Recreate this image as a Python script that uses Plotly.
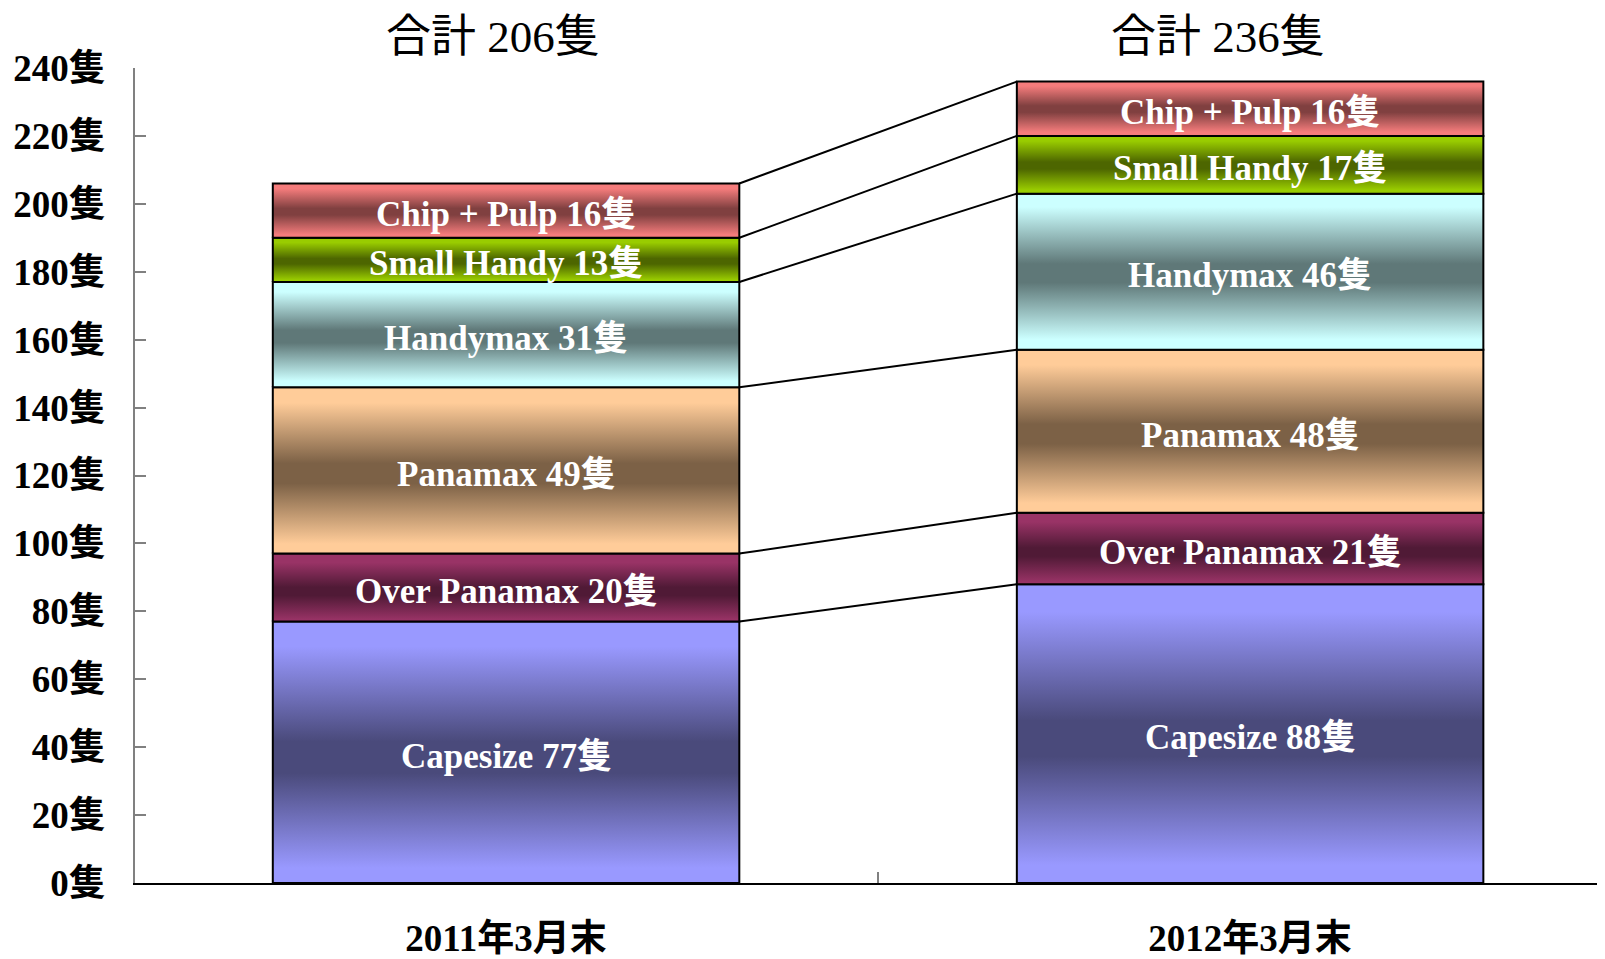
import numpy as np
import plotly.graph_objects as go

# ---------------- data ----------------
categories = ["2011年3月末", "2012年3月末"]
ship_types = ["Capesize", "Over Panamax", "Panamax", "Handymax", "Small Handy", "Chip + Pulp"]
counts_2011 = [77, 20, 49, 31, 13, 16]
counts_2012 = [88, 21, 48, 46, 17, 16]
unit = "隻"
y_tick_values = list(range(0, 241, 20))
y_tick_labels = [f"{v}{unit}" for v in y_tick_values]

# ---------------- style ----------------
edge_colors = {
    "Capesize": "#9999FF",
    "Over Panamax": "#993366",
    "Panamax": "#FFCC99",
    "Handymax": "#CCFFFF",
    "Small Handy": "#99CC00",
    "Chip + Pulp": "#F57C7C",
}
mid_colors = {
    "Capesize": "#4A4A7B",
    "Over Panamax": "#501A36",
    "Panamax": "#7C6146",
    "Handymax": "#5F7878",
    "Small Handy": "#4D6600",
    "Chip + Pulp": "#804040",
}
SERIF = "Liberation Serif, Times New Roman, Noto Sans CJK JP, serif"


def gradient(name):
    e, m = edge_colors[name], mid_colors[name]
    return [[0, e], [0.08, e], [0.44, m], [0.56, m], [0.92, e], [1, e]]


series = [counts_2011, counts_2012]
x_pos = [0, 1]
bar_w = 0.627

fig = go.Figure()

col_edges = []
col_tops = []
for ci, vals in enumerate(series):
    vals = np.array(vals, dtype=float)
    tops = np.cumsum(vals)
    bases = tops - vals
    xc = x_pos[ci]
    x0, x1 = xc - bar_w / 2, xc + bar_w / 2
    col_edges.append((x0, x1))
    col_tops.append(tops)
    for si, name in enumerate(ship_types):
        b, t = bases[si], tops[si]
        fig.add_trace(go.Scatter(
            x=[x0, x1, x1, x0, x0], y=[b, b, t, t, b],
            mode="lines", fill="toself",
            fillgradient=dict(type="vertical", colorscale=gradient(name), start=b, stop=t),
            line=dict(color="black", width=2),
            hoverinfo="skip", showlegend=False,
        ))
        fig.add_annotation(
            x=xc, y=(b + t) / 2, xref="x", yref="y",
            text=f"{name} {int(vals[si])}{unit}", showarrow=False,
            yshift=-4,
            font=dict(family=SERIF, size=35, color="white", weight="bold"),
        )

# connector lines between the stacked columns
lx, ly = [], []
for k in range(len(ship_types)):
    lx += [col_edges[0][1], col_edges[1][0], None]
    ly += [col_tops[0][k], col_tops[1][k], None]
fig.add_trace(go.Scatter(x=lx, y=ly, mode="lines", line=dict(color="black", width=2),
                         hoverinfo="skip", showlegend=False))

# totals above the columns
shifts = [-13, -32]
for ci, vals in enumerate(series):
    fig.add_annotation(
        x=x_pos[ci], y=1.038, xref="x", yref="paper",
        text=f"合計 {sum(vals)}{unit}", showarrow=False,
        xshift=shifts[ci], yanchor="middle",
        font=dict(family=SERIF, size=45, color="black"),
    )

# the page body adds an 8px offset; compensate in size and margins
fig.update_layout(
    width=1597, height=951,
    margin=dict(l=127, r=0, t=60, b=70),
    plot_bgcolor="white", paper_bgcolor="white",
    showlegend=False,
)
fig.update_xaxes(
    range=[-0.4987, 1.477],
    tickmode="array", tickvals=x_pos, ticktext=categories,
    ticks="", showgrid=False, zeroline=False,
    showline=True, linecolor="black", linewidth=2,
    tickfont=dict(family=SERIF, size=37, color="black", weight="bold"),
    ticklabelstandoff=22,
    minor=dict(tickmode="array", tickvals=[0.5], ticks="inside", ticklen=11,
               tickcolor="#808080", tickwidth=2),
)
fig.update_yaxes(
    range=[0, 240],
    tickmode="array", tickvals=y_tick_values, ticktext=y_tick_labels,
    ticks="inside", ticklen=11, tickcolor="#808080", tickwidth=1.5,
    showline=True, linecolor="#808080", linewidth=1.5,
    showgrid=False, zeroline=False,
    tickfont=dict(family=SERIF, size=37, color="black", weight="bold"),
    ticklabelstandoff=20,
)

fig.write_html("out.html")
